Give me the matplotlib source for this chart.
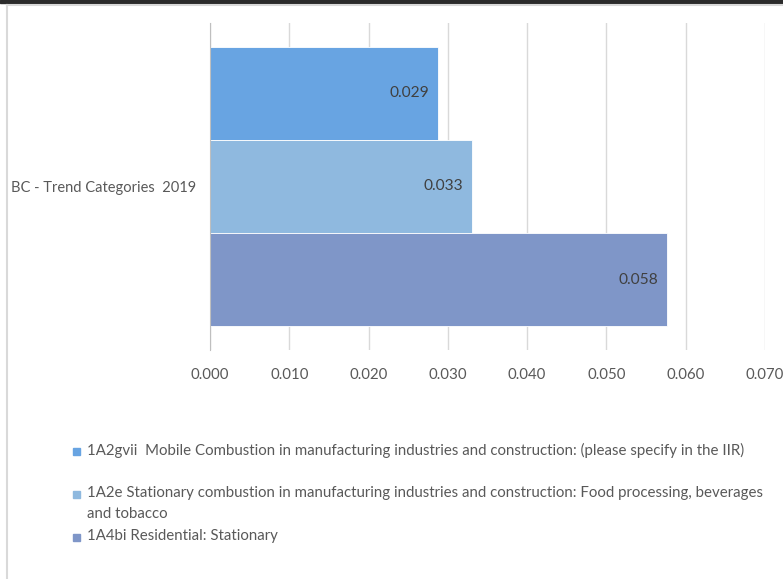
import matplotlib.pyplot as plt
from matplotlib.patches import Rectangle

# BC emissions by source category, 2019
category = "BC - Trend Categories  2019"
series = [
    "1A2gvii  Mobile Combustion in manufacturing industries and construction: (please specify in the IIR)",
    "1A2e Stationary combustion in manufacturing industries and construction: Food processing, beverages\nand tobacco",
    "1A4bi Residential: Stationary",
]
values = [0.0287, 0.0330, 0.0576]
colors = ["#68a4e2", "#8fb9df", "#7f96c8"]
xticks = [0.0, 0.01, 0.02, 0.03, 0.04, 0.05, 0.06, 0.07]

plt.rcParams["font.family"] = ["Lato", "DejaVu Sans"]
W, H = 783, 579
fig = plt.figure(figsize=(W / 100, H / 100), dpi=100)

# frame around the chart
fig.patches.append(Rectangle((0, 1 - 3 / H), 1, 3 / H, transform=fig.transFigure,
                             color="#2b2b2b", zorder=0))
fig.add_artist(plt.Line2D([6.5 / W, 6.5 / W], [0, 1 - 5 / H], color="#d9d9d9", lw=1.5))
fig.add_artist(plt.Line2D([6.5 / W, 1], [1 - 5 / H, 1 - 5 / H], color="#d9d9d9", lw=1.5))

ax = fig.add_axes([210 / W, 1 - 350 / H, (765 - 210) / W, (350 - 23) / H])

pos = [1, 0, -1]
for p, v, c in zip(pos, values, colors):
    ax.barh(p, v, height=1.0, color=c, edgecolor="white", linewidth=0.6, zorder=2)
    ax.text(v - 0.0011, p, f"{v:.3f}", ha="right", va="center",
            fontsize=11.2, color="#404040", zorder=3)

ax.set_xlim(0, 0.07)
ax.set_ylim(-1.5 - 0.255, 1.5 + 0.255)
ax.set_xticks(xticks)
ax.set_xticklabels([f"{t:.3f}" for t in xticks], fontsize=10.8, color="#595959")
ax.tick_params(axis="x", length=0, pad=13)
ax.set_yticks([0])
ax.set_yticklabels([category], fontsize=10.5, color="#595959")
ax.tick_params(axis="y", length=0, pad=10)
ax.grid(axis="x", color="#d9d9d9", lw=1, zorder=0)
for s in ["top", "right", "bottom"]:
    ax.spines[s].set_visible(False)
ax.spines["left"].set_color("#bfbfbf")

# legend below the plot
rows = [451, 494, 537]
for y, c, s in zip(rows, colors, series):
    fig.patches.append(Rectangle((73 / W, 1 - (y + 3.5) / H), 7 / W, 7 / H,
                                 transform=fig.transFigure, color=c))
    fig.text(87 / W, 1 - (y - 8) / H, s, ha="left", va="top", fontsize=10.8,
             color="#595959", linespacing=1.62)

fig.savefig("out.png", dpi=100)
